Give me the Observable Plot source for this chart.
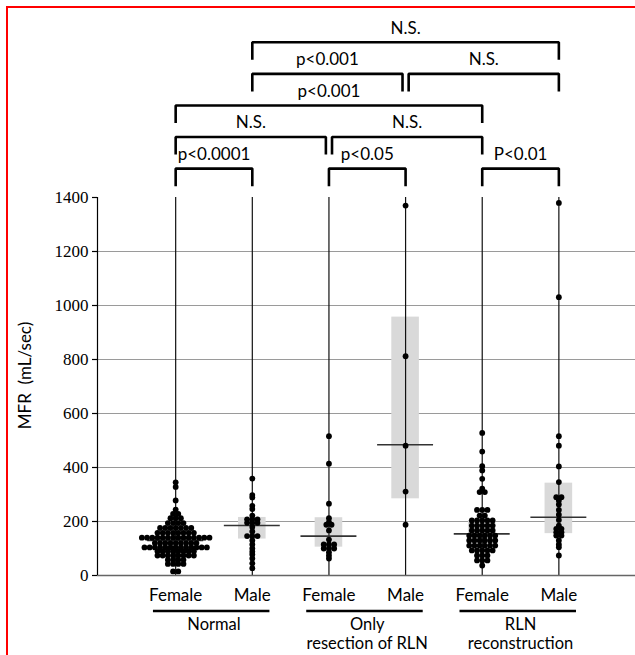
<!DOCTYPE html>
<html><head><meta charset="utf-8">
<script src="https://cdn.jsdelivr.net/npm/d3@7"></script>
<script src="https://cdn.jsdelivr.net/npm/@observablehq/plot@0.6"></script>
<style>
html,body{margin:0;padding:0;background:#fff;overflow:hidden;}
#chart{position:absolute;left:0;top:0;}
#frame{position:absolute;left:6px;top:6px;width:800px;height:800px;border-left:2px solid #f00;border-top:2px solid #f00;pointer-events:none;}
</style></head><body>
<div id="chart"></div><div id="frame"></div>
<script>
// ---- data ----
const categories = ["Normal Female","Normal Male","Only Female","Only Male","RLN Female","RLN Male"];
const sexLabels = ["Female","Male","Female","Male","Female","Male"];
const groupLabels = ["Normal","Only\nresection of RLN","RLN\nreconstruction"];
const groupMembers = [["Normal Female","Normal Male"],["Only Female","Only Male"],["RLN Female","RLN Male"]];
const yTicks = [0,200,400,600,800,1000,1200,1400];
const gridTicks = [200,400,600,800,1000,1200];
const yLabel = "MFR  (mL/sec)";

const normalFemale = [15,15,43,43,43,43,58,58,58,58,
  74,74,74,74,74,74,74,74, 90,90,90,90,90,90,90,90,
  104,104,104,104,104,104,104,104,104,104,104,104,104,
  120,120,120,120,120,120,120,120,120,
  140,140,140,140,140,140,140,140,140,140,140,140,140,140,
  158,158,158,158,158,158,158,158, 176,176,176,176,176,176,176,
  194,194,194,194, 212,212,212, 228,228, 244, 278, 328, 345];
const normalMale = [359,298,289,258,246,222,208,208,208,195,195,195,180,163,146,146,146,130,115,100,88,78,63,45,27];
const onlyFemale = [516,414,266,212,198,188,188,167,133,115,115,115,100,100,100,86,74,63];
const onlyMale = [1370,812,481,311,188];
const rlnFemale = [528,459,405,389,358,322,309,309,243,243,243,222,222,
  204,204,204,204,204,185,185,185,185,185,167,167,167,167,167,
  148,148,148,148,148,148,130,130,130,130,130,130,111,111,111,111,111,111,
  93,93,93,93,93,74,74,74,56,56,56,37];
const rlnMale = [1380,1031,516,481,404,346,290,290,278,263,243,225,206,185,173,173,160,160,148,148,130,115,105,74];

const medians = [130,185,146,484,154,216];
const q1 = [100,135,105,284,111,155];
const q3 = [165,215,214,957,204,342];

const brackets = [
  {from:"Normal Female", to:"Normal Male", level:1, label:"p<0.0001"},
  {from:"Only Female", to:"Only Male", level:1, label:"p<0.05"},
  {from:"RLN Female", to:"RLN Male", level:1, label:"P<0.01"},
  {from:"Normal Female", to:"Only Female", level:2, label:"N.S."},
  {from:"Only Female", to:"RLN Female", level:2, label:"N.S."},
  {from:"Normal Female", to:"RLN Female", level:3, label:"p<0.001"},
  {from:"Normal Male", to:"Only Male", level:4, label:"p<0.001"},
  {from:"Only Male", to:"RLN Male", level:4, label:"N.S."},
  {from:"Normal Male", to:"RLN Male", level:5, label:"N.S."}
];

// ---- layout ----
const W=635, H=655, mL=97, mR=0, mT=8, mB=80;
const xDomain=[-1.02, 6.0], yDomain=[0, 2100];
const pxPerUnit=(W-mL-mR)/(xDomain[1]-xDomain[0]);
const dotStep=5.2/pxPerUnit;
const tickLen=5/pxPerUnit;
const idx = c => categories.indexOf(c);
const series=[normalFemale,normalMale,onlyFemale,onlyMale,rlnFemale,rlnMale];
const dots=[];
series.forEach((vals,i)=>{
  const counts=d3.rollup(vals,v=>v.length,d=>d);
  const seen=new Map();
  vals.forEach(v=>{
    const n=counts.get(v), k=seen.get(v)||0; seen.set(v,k+1);
    dots.push({x:i+(k-(n-1)/2)*dotStep, y:v});
  });
});
const levelBase=1507, levelStep=117, legLen=65, inset=0.04;
const bracketPaths=[], bracketTexts=[];
brackets.forEach((b,j)=>{
  let a=idx(b.from), c=idx(b.to);
  const shared=e=>brackets.some((o,k)=>k!==j&&o.level===b.level&&(idx(o.from)===e||idx(o.to)===e));
  if(shared(a)) a+=inset;
  if(shared(c)) c-=inset;
  const y=levelBase+(b.level-1)*levelStep;
  bracketPaths.push({id:j,x:a,y:y-legLen},{id:j,x:a,y},{id:j,x:c,y},{id:j,x:c,y:y-legLen});
  bracketTexts.push({x:(a+c)/2,y,label:b.label});
});

const chart = Plot.plot({
  width:W, height:H, marginLeft:mL, marginRight:mR, marginTop:mT, marginBottom:mB,
  x:{domain:xDomain, axis:null},
  y:{domain:yDomain, axis:null},
  style:{fontFamily:"Lato, sans-serif", fontSize:"17px", color:"#000", background:"transparent"},
  marks:[
    Plot.ruleY(gridTicks,{stroke:"#9a9a9a",strokeWidth:1.2}),
    Plot.rect(categories,{x1:(d,i)=>i-0.18,x2:(d,i)=>i+0.18,y1:(d,i)=>q1[i],y2:(d,i)=>q3[i],fill:"#d9d9d9"}),
    Plot.ruleX(categories.map((d,i)=>i),{y1:0,y2:1400,stroke:"#111",strokeWidth:1.2}),
    Plot.ruleY(medians,{x1:(d,i)=>i-0.365,x2:(d,i)=>i+0.365,y:d=>d,stroke:"#333",strokeWidth:1.6}),
    Plot.dot(dots,{x:"x",y:"y",r:2.9,fill:"#000",stroke:null}),
    Plot.ruleY([0],{stroke:"#666",strokeWidth:1.5}),
    Plot.ruleX([xDomain[0]],{y1:0,y2:1400,stroke:"#000",strokeWidth:1.2}),
    Plot.ruleY(yTicks,{x1:xDomain[0]-tickLen,x2:xDomain[0],stroke:"#000",strokeWidth:1.2}),
    Plot.text(yTicks,{x:xDomain[0],y:d=>d,text:d=>String(d),dx:-9,textAnchor:"end",lineAnchor:"middle",fontFamily:"'Liberation Serif', 'DejaVu Serif', serif",fontSize:17}),
    Plot.text([yLabel],{x:xDomain[0],y:700,dx:-72,dy:-11,rotate:-90,fontSize:17}),
    Plot.text(categories,{x:(d,i)=>i,y:0,text:(d,i)=>sexLabels[i],dy:20,lineAnchor:"middle"}),
    Plot.ruleY(groupMembers,{x1:g=>idx(g[0])-0.29,x2:g=>idx(g[1])+0.23,y:()=>0,dy:35.5,stroke:"#000",strokeWidth:2.6}),
    Plot.text(groupLabels,{x:(d,i)=>(idx(groupMembers[i][0])+idx(groupMembers[i][1]))/2,y:0,dy:42,lineAnchor:"top",lineHeight:1.1,fontSize:16.5}),
    Plot.line(bracketPaths,{x:"x",y:"y",z:"id",stroke:"#000",strokeWidth:2.6,strokeLinejoin:"miter",strokeLinecap:"butt"}),
    Plot.text(bracketTexts,{x:"x",y:"y",text:"label",dy:-14,lineAnchor:"middle"})
  ]
});
document.getElementById("chart").appendChild(chart);
</script>
</body></html>
